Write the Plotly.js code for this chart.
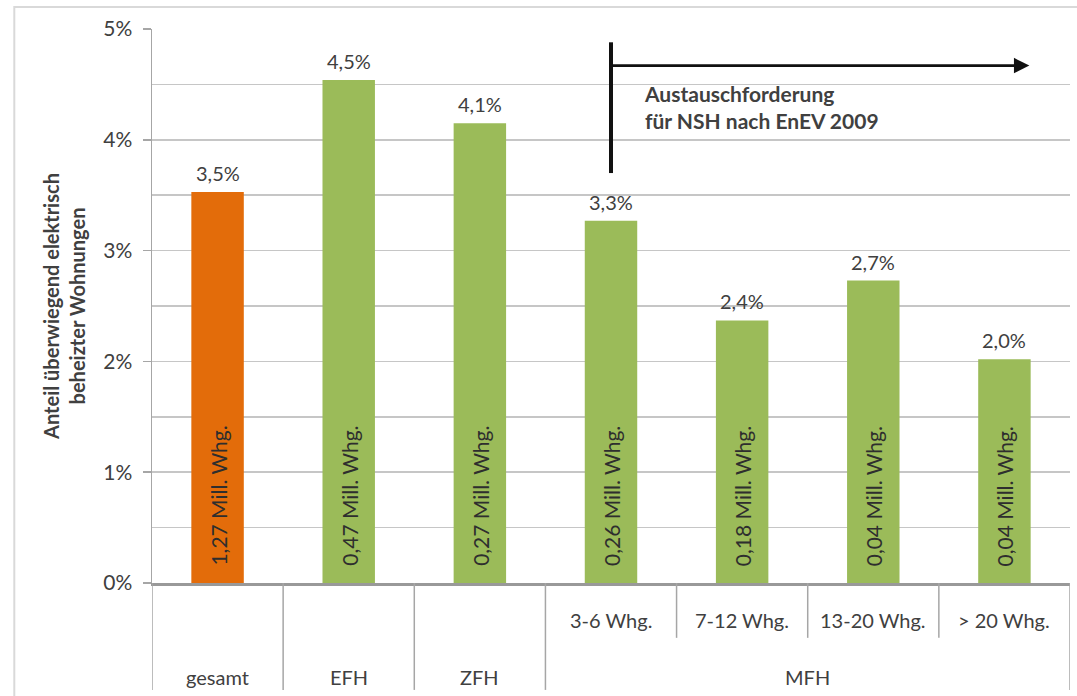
<!DOCTYPE html>
<html>
<head>
<meta charset="utf-8">
<script src="https://cdn.plot.ly/plotly-3.0.1.min.js"></script>
<style>html,body{margin:0;padding:0;background:#fff;}#chart{width:1077px;height:696px;}</style>
</head>
<body>
<div id="chart"></div>
<script>
// ---- data ----
const categories = ["gesamt", "EFH", "ZFH", "3-6 Whg.", "7-12 Whg.", "13-20 Whg.", "> 20 Whg."];
const subLabels = ["", "", "", "3-6 Whg.", "7-12 Whg.", "13-20 Whg.", "> 20 Whg."];
const groupLabels = ["gesamt", "EFH", "ZFH", "MFH"];
const groupCenters = [0, 1, 2, 4.5];
const shares = [3.53, 4.54, 4.15, 3.27, 2.37, 2.73, 2.02];
const shareLabels = ["3,5%", "4,5%", "4,1%", "3,3%", "2,4%", "2,7%", "2,0%"];
const countLabels = ["1,27 Mill. Whg.", "0,47 Mill. Whg.", "0,27 Mill. Whg.", "0,26 Mill. Whg.", "0,18 Mill. Whg.", "0,04 Mill. Whg.", "0,04 Mill. Whg."];
const yTickVals = [0, 1, 2, 3, 4, 5];

const ORANGE = "#E36C0A", GREEN = "#9BBB59", TXT = "#404040", GRID = "#c6c6c6", LINE = "#a6a6a6";
const FONT = "Lato, 'Open Sans', sans-serif";

const barColors = categories.map((c, i) => i === 0 ? ORANGE : GREEN);

const trace = {
  type: "bar",
  x: categories,
  y: shares,
  width: 0.4,
  marker: {color: barColors},
  hoverinfo: "skip"
};

const annotations = [];
shares.forEach((v, i) => {
  annotations.push({x: i, y: v, xref: "x", yref: "y", text: shareLabels[i], showarrow: false,
    yanchor: "bottom", yshift: 5, font: {family: FONT, size: 20, color: TXT}});
  annotations.push({x: i, y: 0, xref: "x", yref: "y", text: countLabels[i], showarrow: false,
    textangle: -90, yanchor: "bottom", yshift: 15, font: {family: FONT, size: 21, color: "#2e2e2e"}});
});
subLabels.forEach((t, i) => {
  if (t) annotations.push({x: i, y: -0.067, xref: "x", yref: "paper", text: t, showarrow: false,
    yanchor: "middle", font: {family: FONT, size: 20, color: TXT}});
});
groupLabels.forEach((t, i) => {
  annotations.push({x: groupCenters[i], y: -0.170, xref: "x", yref: "paper", text: t, showarrow: false,
    yanchor: "middle", font: {family: FONT, size: 20, color: TXT}});
});
// arrow
annotations.push({x: 6.19, y: 4.67, ax: 3, ay: 4.67, xref: "x", yref: "y", axref: "x", ayref: "y",
  text: "", showarrow: true, arrowhead: 2, arrowsize: 1.1, arrowwidth: 2.8, arrowcolor: "#111"});
annotations.push({x: 3.24, y: 4.30, xref: "x", yref: "y", xanchor: "left", yanchor: "middle", align: "left",
  text: "<b>Austauschforderung<br>für NSH nach EnEV 2009</b>", showarrow: false,
  font: {family: FONT, size: 21, color: TXT}});

const shapes = [];
// outer border
shapes.push({type: "rect", xref: "paper", yref: "paper", x0: -0.150, x1: 1.03, y0: -0.25, y1: 1.0397,
  line: {color: "#d9d9d9", width: 2}, layer: "below"});
// table lines
[-0.5, 0.5, 1.5, 2.5, 6.5].forEach(b => shapes.push({type: "line", xref: "x", yref: "paper",
  x0: b, x1: b, y0: 0, y1: -0.193, line: {color: LINE, width: 1.5}}));
[3.5, 4.5, 5.5].forEach(b => shapes.push({type: "line", xref: "x", yref: "paper",
  x0: b, x1: b, y0: 0, y1: -0.099, line: {color: LINE, width: 1.5}}));
// vertical marker line
shapes.push({type: "line", xref: "x", yref: "y", x0: 3, x1: 3, y0: 3.70, y1: 4.88,
  line: {color: "#111", width: 4}});

const layout = {
  width: 1077, height: 696,
  margin: {l: 152, r: 7, t: 29, b: 113},
  paper_bgcolor: "#fff", plot_bgcolor: "#fff",
  showlegend: false,
  font: {family: FONT, color: TXT},
  xaxis: {
    type: "category", range: [-0.5, 6.5], showticklabels: false, ticks: "",
    showgrid: false, showline: true, linecolor: "#999999", linewidth: 2.5, zeroline: false, fixedrange: true
  },
  yaxis: {
    range: [0, 5], tickvals: yTickVals, ticktext: yTickVals.map(v => v + "%"),
    ticks: "outside", ticklen: 8, tickcolor: LINE, tickwidth: 1.5, ticklabelstandoff: 6,
    showline: true, linecolor: LINE, linewidth: 1.5,
    showgrid: true, gridcolor: GRID, gridwidth: 1.5, zeroline: false,
    minor: {dtick: 0.5, tick0: 0, showgrid: true, gridcolor: GRID, gridwidth: 1.5, ticks: ""},
    tickfont: {family: FONT, size: 21, color: TXT},
    title: {text: "<b>Anteil überwiegend elektrisch<br>beheizter Wohnungen</b>", standoff: 12,
      font: {family: FONT, size: 20, color: TXT}},
    automargin: false, fixedrange: true
  },
  shapes: shapes,
  annotations: annotations
};

Plotly.newPlot("chart", [trace], layout, {displayModeBar: false, staticPlot: true});
</script>
</body>
</html>
